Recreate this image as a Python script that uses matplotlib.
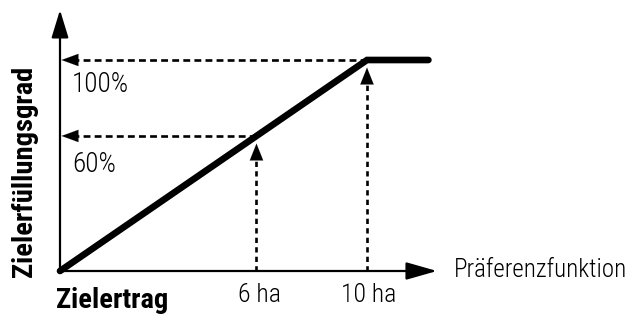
import matplotlib
matplotlib.use('Agg')
import matplotlib.pyplot as plt

# Praeferenzfunktion: linear bis 10 ha, danach 100%
line_x = [0, 10, 12]
line_y = [0, 100, 100]

# Hilfslinien (Position auf der x-Achse, Zielerfuellungsgrad)
guide_x = [6.4, 10]
guide_y = [64, 100]
x_labels = ['6 ha', '10 ha']
y_labels = ['60%', '100%']

plt.rcParams['font.family'] = ['Roboto Condensed', 'DejaVu Sans']

fig = plt.figure(figsize=(6.32, 3.14), dpi=100)
ax = fig.add_axes([0, 0, 1, 1])
# pixel mapping: x_px = 60 + 30.7*ha, y_px = 271 - 2.11*pct
ax.set_xlim(-60 / 30.7, (632 - 60) / 30.7)
ax.set_ylim(-(314 - 271) / 2.11, 271 / 2.11)
ax.axis('off')

# axes with arrows
ax.annotate('', xy=(0, 123.7), xytext=(0, 0),
            arrowprops=dict(arrowstyle='-|>,head_length=0.85,head_width=0.26',
                            lw=1.6, color='black', mutation_scale=20,
                            shrinkA=0, shrinkB=0))
ax.annotate('', xy=(12.28, 0), xytext=(0, 0),
            arrowprops=dict(arrowstyle='-|>,head_length=0.95,head_width=0.27',
                            lw=1.6, color='black', mutation_scale=20,
                            shrinkA=0, shrinkB=0))

# dashed guides
for gx, gy in zip(guide_x, guide_y):
    ax.plot([0.4, gx], [gy, gy], color='black', lw=1.9, ls=(0, (2.6, 1.6)))
    ax.plot([gx, gx], [0, gy - 8], color='black', lw=1.9, ls=(0, (2, 1.6)))
    ax.annotate('', xy=(0.05, gy), xytext=(0.6, gy),
                arrowprops=dict(arrowstyle='-|>,head_length=0.6,head_width=0.22',
                                lw=0.1, color='black', mutation_scale=20,
                                shrinkA=0, shrinkB=0))
    ax.annotate('', xy=(gx, gy - 3.6), xytext=(gx, gy - 10),
                arrowprops=dict(arrowstyle='-|>,head_length=0.6,head_width=0.24',
                                lw=0.1, color='black', mutation_scale=20,
                                shrinkA=0, shrinkB=0))

# main line
ax.plot(line_x, line_y, color='black', lw=4.8, solid_capstyle='round',
        solid_joinstyle='miter', zorder=5)

# labels
fs = 18.5
ax.text(0.39, 88.2, y_labels[1], fontsize=19.5, fontweight='light', va='center', ha='left')
ax.text(0.39, 50.7, y_labels[0], fontsize=19.5, fontweight='light', va='center', ha='left')
ax.text((260 - 60) / 30.7, -11.2, x_labels[0], fontsize=fs, fontweight='light',
        va='center', ha='center')
ax.text((369 - 60) / 30.7, -11.2, x_labels[1], fontsize=fs, fontweight='light',
        va='center', ha='center')
ax.text((454 - 60) / 30.7, 0.5, 'Präferenzfunktion', fontsize=18, fontweight='light',
        va='center', ha='left')
ax.text((112 - 60) / 30.7, -14.0, 'Zielertrag', fontsize=20.5, fontweight='bold',
        va='center', ha='center')
ax.text((25 - 60) / 30.7, (271 - 171) / 2.11, 'Zielerfüllungsgrad', fontsize=20.5,
        fontweight='bold', rotation=90, va='center', ha='center')

fig.savefig('out.png', dpi=100)
